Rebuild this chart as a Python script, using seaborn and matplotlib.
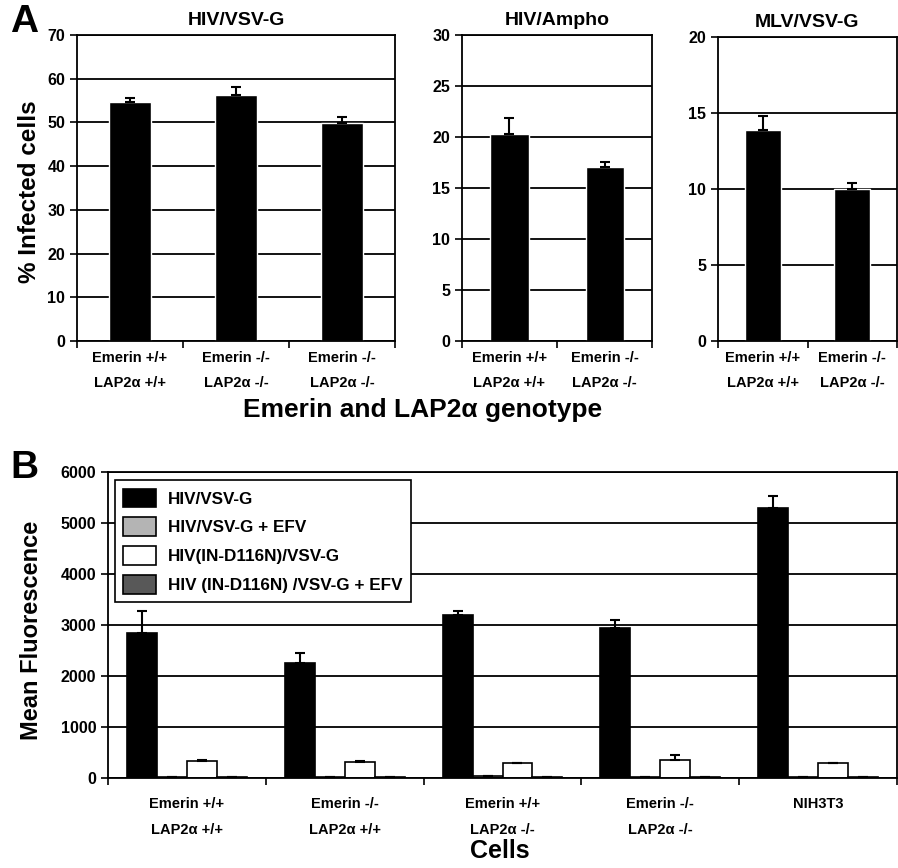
import numpy as np
import pandas as pd
import seaborn as sns
import matplotlib.pyplot as plt

# Panel A data
a1_labels = ['Emerin +/+\nLAP2α +/+', 'Emerin -/-\nLAP2α -/-', 'Emerin -/-\nLAP2α -/-']
a1_vals = [54.6, 56.3, 49.9]
a1_err = [1.0, 1.8, 1.3]

a2_labels = ['Emerin +/+\nLAP2α +/+', 'Emerin -/-\nLAP2α -/-']
a2_vals = [20.3, 17.05]
a2_err = [1.6, 0.5]

a3_labels = ['Emerin +/+\nLAP2α +/+', 'Emerin -/-\nLAP2α -/-']
a3_vals = [13.9, 10.0]
a3_err = [0.9, 0.4]

# Panel B data
cells = ['Emerin +/+\nLAP2α +/+', 'Emerin -/-\nLAP2α +/+', 'Emerin +/+\nLAP2α -/-',
         'Emerin -/-\nLAP2α -/-', 'NIH3T3']
viruses = ['HIV/VSV-G', 'HIV/VSV-G + EFV', 'HIV(IN-D116N)/VSV-G', 'HIV (IN-D116N) /VSV-G + EFV']
hiv_vsvg = [2840, 2260, 3195, 2940, 5300]
hiv_vsvg_err = [430, 200, 85, 160, 230]
hiv_efv = [15, 15, 30, 15, 15]
hiv_efv_err = [0, 0, 0, 0, 0]
in_mut = [333, 320, 285, 345, 285]
in_mut_err = [15, 10, 10, 100, 10]
in_mut_efv = [15, 15, 15, 20, 15]
in_mut_efv_err = [0, 0, 0, 0, 0]

colors = ['#000000', '#b4b4b4', '#ffffff', '#585858']

sns.set_style('white')
plt.rcParams['font.family'] = ['Liberation Sans', 'DejaVu Sans']
plt.rcParams['font.weight'] = 'bold'
for key in ['text.color', 'axes.labelcolor', 'xtick.color', 'ytick.color']:
    plt.rcParams[key] = 'black'

fig = plt.figure(figsize=(8.98, 8.68), dpi=100)
W, H = 898, 868


def add_ax(left, top, right, bottom):
    return fig.add_axes([left / W, 1 - bottom / H, (right - left) / W, (bottom - top) / H])


def style_ax(ax, ymax, step, pad):
    n = len(ax.get_xticks())
    ax.set_xlim(-0.5, n - 0.5)
    ax.set_ylim(0, ymax)
    ax.set_yticks(np.arange(0, ymax + step / 2, step))
    ax.yaxis.grid(True, color='black', lw=1.3)
    ax.set_axisbelow(True)
    for s in ax.spines.values():
        s.set_color('black')
        s.set_linewidth(1.3)
    ax.set_xticks(np.arange(-0.5, n, 1), minor=True)
    ax.tick_params(axis='x', which='major', length=0, pad=pad, labelsize=10.5)
    ax.tick_params(axis='x', which='minor', length=5, width=1.2, direction='out', bottom=True)
    ax.tick_params(axis='y', length=5, width=1.2, direction='out', left=True, labelsize=11.5)
    for lab in ax.get_xticklabels():
        lab.set_linespacing(2.05)
        lab.set_fontweight('bold')
    for lab in ax.get_yticklabels():
        lab.set_fontweight('bold')
    ax.set_xlabel('')
    ax.set_ylabel('')


def draw_err(ax, bars, err):
    xs = [b.get_x() + b.get_width() / 2 for b in bars]
    ys = [b.get_height() for b in bars]
    ax.errorbar(xs, ys, yerr=[np.zeros(len(err)), err], fmt='none', ecolor='black',
                elinewidth=1.5, capsize=3.5, capthick=1.5)


panels = [
    (add_ax(77, 35, 395, 341), a1_labels, a1_vals, a1_err, 70, 10, 'HIV/VSV-G'),
    (add_ax(462, 35, 652, 341), a2_labels, a2_vals, a2_err, 30, 5, 'HIV/Ampho'),
    (add_ax(718, 37, 897, 341), a3_labels, a3_vals, a3_err, 20, 5, 'MLV/VSV-G'),
]
for ax, labs, vals, err, ymax, step, title in panels:
    df = pd.DataFrame({'pos': range(len(vals)), 'val': vals})
    sns.barplot(data=df, x='pos', y='val', color='black', width=0.4, saturation=1,
                errorbar=None, ax=ax)
    ax.set_xticks(range(len(vals)))
    ax.set_xticklabels(labs)
    draw_err(ax, ax.containers[0], err)
    style_ax(ax, ymax, step, 7)
    ax.set_title(title, fontsize=14, fontweight='bold', pad=7)

# Panel B
axb = add_ax(108, 472, 897, 778)
dfb = pd.DataFrame({
    'cell': np.repeat(np.arange(len(cells)), len(viruses)),
    'virus': np.tile(viruses, len(cells)),
    'val': np.column_stack([hiv_vsvg, hiv_efv, in_mut, in_mut_efv]).ravel(),
})
sns.barplot(data=dfb, x='cell', y='val', hue='virus', hue_order=viruses,
            palette=colors, width=0.76, saturation=1, errorbar=None,
            edgecolor='black', linewidth=1.2, ax=axb)
axb.set_xticks(range(len(cells)))
axb.set_xticklabels(cells)
for cont, err in zip(axb.containers, [hiv_vsvg_err, hiv_efv_err, in_mut_err, in_mut_efv_err]):
    draw_err(axb, cont, err)
style_ax(axb, 6000, 1000, 14)
leg = axb.legend(loc='upper left', bbox_to_anchor=(0.004, 0.985), frameon=True, fancybox=False,
                 edgecolor='black', prop={'weight': 'bold', 'size': 12.3},
                 handlelength=1.9, handleheight=1.3, labelspacing=0.6, borderpad=0.5,
                 handletextpad=0.7, borderaxespad=0.2)
leg.get_frame().set_linewidth(1.2)
leg.get_frame().set_alpha(1)

# labels
fig.text(10 / W, 1 - 22 / H, 'A', fontsize=28, fontweight='bold', ha='left', va='center')
fig.text(10 / W, 1 - 468 / H, 'B', fontsize=28, fontweight='bold', ha='left', va='center')
fig.text(29 / W, 1 - 192 / H, '% Infected cells', rotation=90, fontsize=17.5,
         fontweight='bold', ha='center', va='center')
fig.text(423 / W, 1 - 410 / H, 'Emerin and LAP2α genotype', fontsize=19,
         fontweight='bold', ha='center', va='center')
fig.text(32 / W, 1 - 630 / H, 'Mean Fluorescence', rotation=90, fontsize=17,
         fontweight='bold', ha='center', va='center')
fig.text(500 / W, 1 - 851 / H, 'Cells', fontsize=18, fontweight='bold',
         ha='center', va='center')

fig.savefig('out.png', dpi=100)
